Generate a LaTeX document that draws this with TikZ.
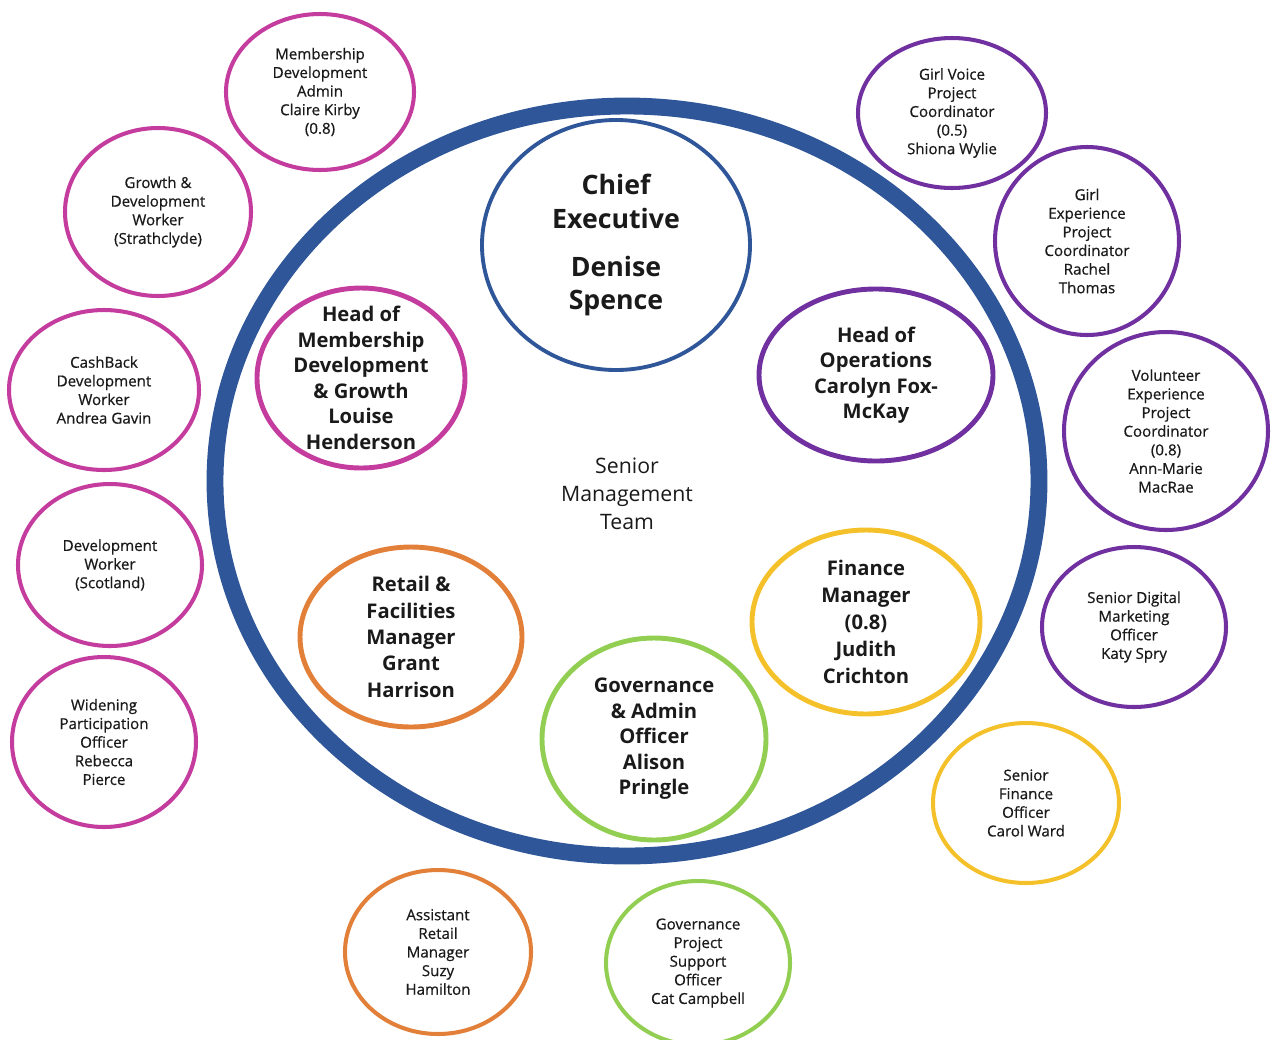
\documentclass[tikz,border=0pt]{standalone}
\usepackage{fontspec}
\setmainfont{Open Sans}
\newfontfamily\stafffont{Open Sans}[FakeBold=0.6]
\usetikzlibrary{shapes.geometric}
\definecolor{ringblue}{RGB}{46,86,152}
\definecolor{pinkline}{RGB}{196,60,158}
\definecolor{violetline}{RGB}{112,48,160}
\definecolor{orangeline}{RGB}{226,128,58}
\definecolor{goldline}{RGB}{244,193,42}
\definecolor{leafline}{RGB}{146,206,82}
\definecolor{inktext}{RGB}{26,26,26}
\tikzset{
  oval/.style 2 args = {minimum width={2*#1*0.02cm},minimum height={2*#2*0.02cm}},
  staffbox/.style    = {ellipse,draw=#1,line width=2.3pt,inner xsep=0pt,inner ysep=-30pt,
                        align=center,text=inktext,font=\stafffont\fontsize{8.6}{10.6}\selectfont},
  headbox/.style     = {ellipse,draw=#1,line width=2.8pt,inner xsep=0pt,inner ysep=-30pt,
                        align=center,text=inktext,font=\bfseries\fontsize{11.5}{14.5}\selectfont},
  teamring/.style    = {ellipse,draw=ringblue,line width=9.6pt,inner sep=0pt}
}

\begin{document}
\begin{tikzpicture}[x=0.02cm,y=-0.02cm]
  \useasboundingbox (0,0) rectangle (1272,1039);
  \node[teamring,oval={412}{375}] (team) at (627,481) {};
  \node[align=center,text=inktext,font=\fontsize{12.1}{15.9}\selectfont] (smt) at (627,494)
    {Senior\\Management\\Team};

  \node[headbox=ringblue,line width=2.2pt,oval={134}{125},font=\bfseries\fontsize{15.2}{19.3}\selectfont]
    (chief) at (616,245) {Chief\\Executive\\[8pt]Denise\\Spence};
  \node[headbox=pinkline,oval={104}{90}] (headmem) at (361,378)
    {Head of\\Membership\\Development\\\& Growth\\Louise\\Henderson};
  \node[headbox=violetline,oval={117}{86}] (headops) at (876,375)
    {Head of\\Operations\\Carolyn Fox-\\McKay};
  \node[headbox=orangeline,oval={111}{90},font=\bfseries\fontsize{11.5}{15}\selectfont] (retail) at (411,637)
    {Retail \&\\Facilities\\Manager\\Grant\\Harrison};
  \node[headbox=goldline,oval={114}{92},font=\bfseries\fontsize{11.5}{15.3}\selectfont] (finance) at (866,622)
    {Finance\\Manager\\(0.8)\\Judith\\Crichton};
  \node[headbox=leafline,oval={112}{101}] (govadmin) at (654,739)
    {Governance\\\& Admin\\Officer\\Alison\\Pringle};

  \node[staffbox=pinkline,oval={94}{78}] (admin) at (320,92)
    {Membership\\Development\\Admin\\Claire Kirby\\(0.8)};
  \node[staffbox=pinkline,oval={93}{84}] (growth) at (158,212)
    {Growth \&\\Development\\Worker\\(Strathclyde)};
  \node[staffbox=pinkline,oval={95}{80}] (cashback) at (104,390)
    {CashBack\\Development\\Worker\\Andrea Gavin};
  \node[staffbox=pinkline,oval={92}{81}] (devworker) at (110,565)
    {Development\\Worker\\(Scotland)};
  \node[staffbox=pinkline,oval={92}{85}] (widening) at (104,742)
    {Widening\\Participation\\Officer\\Rebecca\\Pierce};
  \node[staffbox=orangeline,oval={93}{82}] (assistant) at (438,952)
    {Assistant\\Retail\\Manager\\Suzy\\Hamilton};
  \node[staffbox=leafline,oval={92}{82}] (govsupport) at (698,963)
    {Governance\\Project\\Support\\Officer\\Cat Campbell};
  \node[staffbox=goldline,oval={93}{80}] (finofficer) at (1026,803)
    {Senior\\Finance\\Officer\\Carol Ward};
  \node[staffbox=violetline,oval={92}{80}] (digital) at (1134,627)
    {Senior Digital\\Marketing\\Officer\\Katy Spry};
  \node[staffbox=violetline,oval={102}{99}] (volunteer) at (1166,431)
    {Volunteer\\Experience\\Project\\Coordinator\\(0.8)\\Ann-Marie\\MacRae};
  \node[staffbox=violetline,oval={92}{94}] (girlexp) at (1087,241)
    {Girl\\Experience\\Project\\Coordinator\\Rachel\\Thomas};
  \node[staffbox=violetline,oval={94}{75}] (girlvoice) at (952,113)
    {Girl Voice\\Project\\Coordinator\\(0.5)\\Shiona Wylie};
\end{tikzpicture}
\end{document}
